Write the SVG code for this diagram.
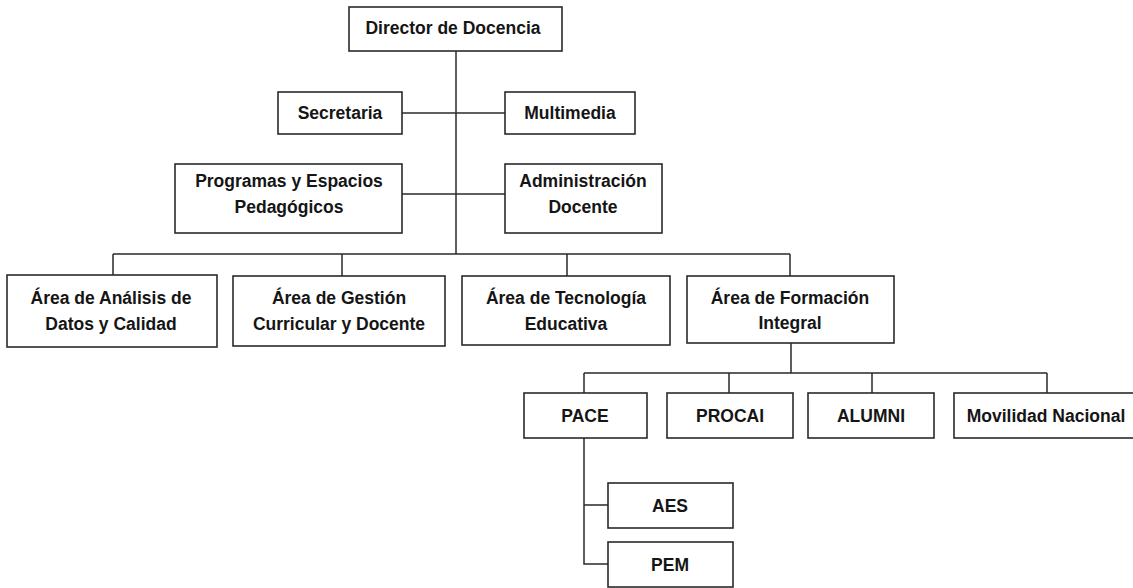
<svg xmlns="http://www.w3.org/2000/svg" width="1133" height="588" viewBox="0 0 1133 588">
<style>
.box{fill:#fff;stroke:#2a2a2a;stroke-width:1.6}
.ln{fill:none;stroke:#2a2a2a;stroke-width:1.5}
text{font-family:"Liberation Sans",Arial,sans-serif;font-weight:bold;font-size:17.5px;fill:#151515;text-anchor:middle}
</style>
<rect width="1133" height="588" fill="#fff"/>
<g id="connectors">
<path class="ln" d="M456 51V254"/>
<path class="ln" d="M402 113H505"/>
<path class="ln" d="M402 194H505"/>
<path class="ln" d="M113 254H790M113 254V275M342 254V276M567 254V276M790 254V276"/>
<path class="ln" d="M791 343V373M584 373H1047M584 373V393M729 373V393M872 373V393M1047 373V393"/>
<path class="ln" d="M584 438V564H608M584 505H608"/>
</g>
<g id="director"><rect class="box" x="349" y="7" width="213" height="44"/><text x="453" y="34">Director de Docencia</text></g>
<g id="secretaria"><rect class="box" x="278" y="92" width="124" height="42"/><text x="340" y="119">Secretaria</text></g>
<g id="multimedia"><rect class="box" x="505" y="92" width="130" height="42"/><text x="570" y="119">Multimedia</text></g>
<g id="programas"><rect class="box" x="175" y="164" width="227" height="69"/><text x="289" y="187">Programas y Espacios</text><text x="289" y="213">Pedagógicos</text></g>
<g id="administracion"><rect class="box" x="505" y="164" width="157" height="69"/><text x="583" y="187">Administración</text><text x="583" y="213">Docente</text></g>
<g id="analisis"><rect class="box" x="7" y="275" width="210" height="72"/><text x="111" y="304">Área de Análisis de</text><text x="111" y="330">Datos y Calidad</text></g>
<g id="gestion"><rect class="box" x="233" y="276" width="212" height="70"/><text x="339" y="304">Área de Gestión</text><text x="339" y="330">Curricular y Docente</text></g>
<g id="tecnologia"><rect class="box" x="462" y="276" width="208" height="69"/><text x="566" y="304">Área de Tecnología</text><text x="566" y="330">Educativa</text></g>
<g id="formacion"><rect class="box" x="687" y="276" width="207" height="67"/><text x="790" y="304">Área de Formación</text><text x="790" y="329">Integral</text></g>
<g id="pace"><rect class="box" x="524" y="393" width="123" height="45"/><text x="585" y="422">PACE</text></g>
<g id="procai"><rect class="box" x="667" y="393" width="126" height="45"/><text x="730" y="422">PROCAI</text></g>
<g id="alumni"><rect class="box" x="808" y="393" width="126" height="45"/><text x="871" y="422">ALUMNI</text></g>
<g id="movilidad"><rect class="box" x="954" y="393" width="184" height="45"/><text x="1046" y="422">Movilidad Nacional</text></g>
<g id="aes"><rect class="box" x="608" y="483" width="125" height="45"/><text x="670" y="512">AES</text></g>
<g id="pem"><rect class="box" x="608" y="542" width="125" height="45"/><text x="670" y="571">PEM</text></g>
</svg>
